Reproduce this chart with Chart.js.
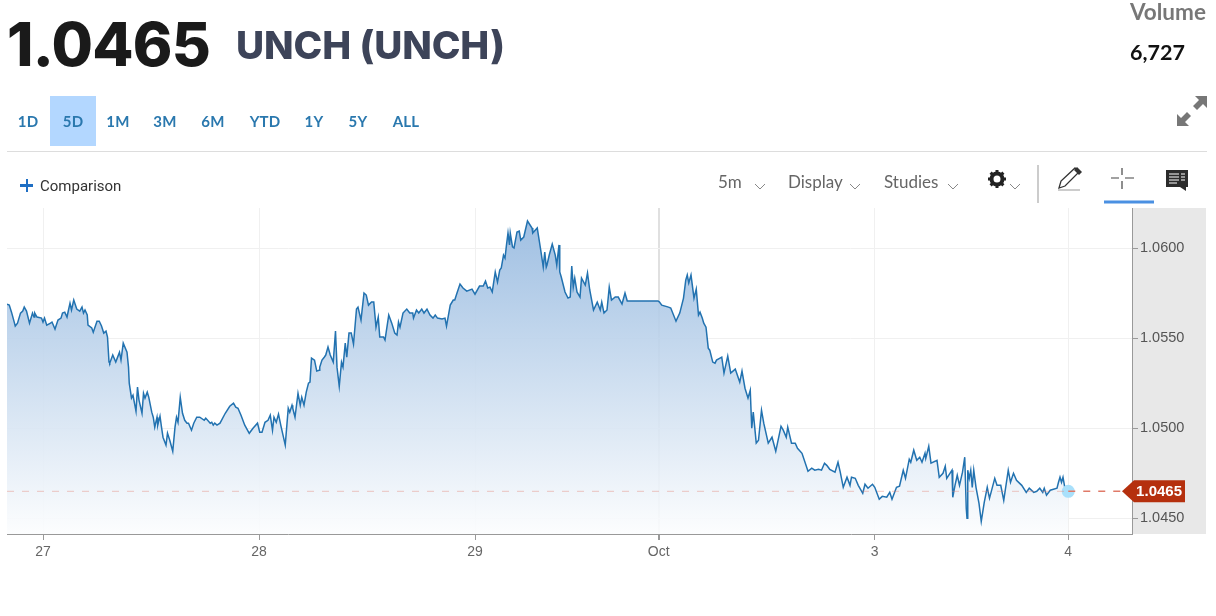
<!DOCTYPE html>
<html>
<head>
<meta charset="utf-8">
<title>UNCH</title>
<script src="https://cdn.jsdelivr.net/npm/chart.js@4"></script>
<style>
html,body{margin:0;padding:0;background:#fff;}
body{width:1216px;height:616px;position:relative;overflow:hidden;font-family:Lato,sans-serif;}
#priceChart{position:absolute;left:0;top:0;}
.t{position:absolute;white-space:nowrap;line-height:1;transform:translateY(-50%);}
.c{transform:translate(-50%,-50%);}
.range{font:700 15px Lato,sans-serif;color:#2a78ae;letter-spacing:.2px;}
.tool{font:400 17px Lato,sans-serif;color:#666;}
svg{position:absolute;overflow:visible;}
.box{position:absolute;}
</style>
</head>
<body>
<canvas id="priceChart" width="1216" height="616"></canvas>

<div class="t" style="left:7px;top:44px;font:800 60px Inter,sans-serif;color:#1a1a1a;letter-spacing:-.7px;">1.0465</div>
<div class="t" style="left:236px;top:45px;font:800 38.7px Inter,sans-serif;color:#3d4459;letter-spacing:-.1px;">UNCH (UNCH)</div>
<div class="t" style="left:1130px;top:11px;font:700 22.5px Lato,sans-serif;color:#777;">Volume</div>
<div class="t" style="left:1130px;top:52px;font:700 21.5px Lato,sans-serif;color:#111;">6,727</div>

<div class="box" style="left:50px;top:96px;width:46px;height:50px;background:#b3d7ff;"></div>
<div id="ranges"></div>
<div class="box" style="left:7px;top:151px;width:1200px;height:1px;background:#ddd;"></div>

<div class="box" style="left:20px;top:184px;width:13px;height:2.500px;background:#1f6fc4;"></div>
<div class="box" style="left:25.500px;top:179px;width:2.500px;height:13px;background:#1f6fc4;"></div>
<div class="t" style="left:40px;top:186px;font:400 15px Roboto,sans-serif;color:#333;">Comparison</div>

<div class="t tool" style="left:718px;top:181px;">5m</div>
<div class="t tool" style="left:788px;top:181px;">Display</div>
<div class="t tool" style="left:884px;top:181px;">Studies</div>

<svg style="left:0;top:0;" width="1216" height="616" fill="none">
  <path d="M755 184l5 5 5-5M850 184l5 5 5-5M948 184l5 5 5-5M1010 184l5 5 5-5" stroke="#888" stroke-width="1"/>
  <!-- gear -->
  <circle cx="997" cy="179" r="5.5" stroke="#222" stroke-width="4"/>
  <path d="M997 170v3M997 185v3M988 179h3M1003 179h3M990.6 172.6l2 2M1001.4 183.4l2 2M1003.400 172.6l-2 2M992.6 183.4l-2 2" stroke="#222" stroke-width="3"/>
  <!-- divider -->
  <path d="M1038 165v38" stroke="#ccc" stroke-width="2"/>
  <!-- pencil -->
  <path d="M1059 188l2-7 14-13 4 4-14 14z" stroke="#333" stroke-width="1.3"/>
  <path d="M1074 170l5 5 3-3-5-5z" fill="#333"/>
  <path d="M1058 190h22" stroke="#999" stroke-width="1"/>
  <!-- crosshair -->
  <path d="M1111 178h8M1125 178h9M1122 168v7M1122 181v8" stroke="#444" stroke-width="1.2"/>
  <path d="M1104 202h50" stroke="#4a90e2" stroke-width="3"/>
  <!-- comment -->
  <path d="M1166 170h22v17h-22z" fill="#2b2b2b"/>
  <path d="M1180 187h6v4z" fill="#2b2b2b"/>
  <path d="M1169 174h10M1169 177h10M1169 180h10M1169 183h8M1181 174h4M1181 177h4M1181 180h4" stroke="#fff" stroke-width="1"/>
  <!-- expand -->
  <path d="M1195 96h12v12l-4-4-6 6-4-4 6-6z" fill="#777"/>
  <path d="M1189 126h-12v-12l4 4 6-6 4 4-6 6z" fill="#777"/>
</svg>

<script>
const bars = [
0,3,6,10,11,14,18,21,23,26,
30,34,36,37,40,46,48,50,53,58,
60,64,68,72,74,77,80,82,84,86,
89,93,97,100,102,104,107,108,113,115,
120,123,126,129,132,134,136,
137,141,145,147,150,152,155,160,162,163,
166,168,172,174,176,180,182,184,187,189,
193,195,197,200,201,204,206,208,212,214,
217,221,224,226,228,231,234,237,240,242,
246,249,253,257,263,265,271,273,275,277,
280,284,291,297,302,305,308,312,317,323,
328,334,337,340,344,348,351,354,356,359,
362,365,371,375,377,380,381,384,388,391,
393,396,399,402,404,406,410,413,416,417,
420,423,425,428,431,435,438,440,443,446,
448,451,453,456,459,462,466,468,472,476,
479,482,486,489,492,495,497,502,504,509,
513,517,520,522,524,528,533,537,541,542,
546,549,553,556,560,564,568,571,574,580,
584,586,591,595,597,600,604,608,613,620,
624,630,635,638,641,644,647,651,654,657,
659,662,664,666,668,670,671,674,676,680,
683,685,689,694,700,701,707,712,715,717,
719,720,723,727,731,733,736,737,739,744,
748,751,753,755,757,760,764,766,771,774,
777,782,787,791,793,796,800,803,806,811,
815,820,824,827,868,
870,873,882,885,892,897,902,905,907,909,
912,916,919,922,924,927,929,932,935,937,
941,944,946,953,956,961,965,971,977,980,
984,988,991,993,995,999,1002,1006,1009,1015,
1020,1025,1032,1035,1039,1041,1046,1051,1054,1060,
1068,1073,1077,1082,1086,1090,1093,1097,1104,1108,1111,
1115,1120,1124,1126,1131,1135,1141,1144,1148,1154,
1157,1163,1167,1173,1177,1180,1186,1190,1195,1198,
1203,1205,1209,1213,1217,1220,1224,1225,1229,1232,
1240,1243,1248,1251,1253,1260,1261,1264,1267,1270,
1274,1277,1279,1280,1281,1283,1285,1287,1289,1292,
1296,1299,1303,1307,1310,1317,1320,1325,1329,1335,
1338,1342,1346,1353,1359,1363,1369,1373,1377,1381,
1383,1386,1391,1400,1402,1404,1406,1408,1409,1411,1415];

const prices = [
1.05689,1.05683,1.05644,1.05583,1.05567,1.05583,1.05639,1.05650,1.05672,1.05650,
1.05583,1.05639,1.05617,1.05639,1.05617,1.05611,1.05589,1.05611,1.05572,1.05583,
1.05589,1.05550,1.05600,1.05611,1.05639,1.05644,1.05617,1.05656,1.05694,1.05656,
1.05711,1.05661,1.05650,1.05672,1.05639,1.05656,1.05628,1.05572,1.05556,1.05533,
1.05594,1.05594,1.05567,1.05528,1.05539,1.05506,1.05367,
1.05361,1.05406,1.05367,1.05389,1.05422,1.05378,1.05472,1.05422,1.05339,1.05250,
1.05167,1.05183,1.05094,1.05228,1.05156,1.05083,1.05194,1.05167,1.05200,1.05172,
1.05089,1.05061,1.05006,1.05061,1.05017,1.05067,1.05006,1.04950,1.04906,1.04972,
1.04933,1.04872,1.05006,1.05061,1.05033,1.05172,1.05083,1.05044,1.05028,1.05028,
1.04989,1.05028,1.05061,1.05061,1.05044,1.05056,1.05028,1.05033,1.05017,1.05028,
1.05017,1.05028,1.05083,1.05122,1.05139,1.05117,1.05111,1.05072,1.05017,1.04972,
1.05000,1.05028,1.04978,1.04978,1.05033,1.05044,1.05072,1.04989,1.05061,1.05033,
1.05078,1.05017,1.04906,1.05111,1.05089,1.05128,1.05111,1.05061,1.05194,1.05128,
1.05172,1.05128,1.05200,1.05250,1.05256,1.05389,1.05378,1.05317,1.05322,1.05339,
1.05378,1.05394,1.05406,1.05450,1.05406,1.05367,1.05539,1.05339,1.05233,1.05367,
1.05339,1.05472,1.05394,1.05528,1.05528,1.05467,1.05661,1.05672,1.05600,1.05750,
1.05739,1.05683,1.05700,1.05700,1.05561,1.05617,1.05506,1.05506,1.05489,1.05628,
1.05583,1.05528,1.05517,1.05589,1.05561,1.05639,1.05661,1.05639,1.05639,1.05611,
1.05656,1.05639,1.05661,1.05639,1.05661,1.05628,1.05611,1.05628,1.05611,1.05606,
1.05611,1.05567,1.05683,1.05711,1.05711,1.05750,1.05800,1.05778,1.05761,1.05772,
1.05744,1.05789,1.05789,1.05817,1.05778,1.05783,1.05756,1.05867,1.05811,1.05878,
1.05889,1.05961,1.05944,1.06017,1.06083,1.06017,1.06083,1.06006,1.06000,1.06089,
1.06094,1.06044,1.06061,1.06150,1.06111,1.06083,1.06111,1.05978,1.05894,1.05978,
1.05894,1.05906,1.05961,1.06022,1.05961,1.05906,1.06017,1.05867,1.05839,1.05756,
1.05722,1.05728,1.05900,1.05783,1.05833,1.05756,1.05728,1.05833,1.05794,1.05861,
1.05767,1.05656,1.05700,1.05656,1.05700,1.05639,1.05656,1.05783,1.05711,1.05728,
1.05728,1.05689,1.05750,1.05706,1.05706,
1.05700,1.05683,1.05672,1.05667,1.05594,1.05639,1.05722,1.05822,1.05850,1.05806,
1.05850,1.05722,1.05772,1.05628,1.05644,1.05611,1.05583,1.05561,1.05444,1.05433,
1.05367,1.05361,1.05378,1.05394,1.05306,1.05400,1.05306,1.05328,1.05256,1.05317,
1.05222,1.05167,1.05211,1.05000,1.05089,1.04917,1.04933,1.05100,1.05028,1.04917,
1.04950,1.04872,1.05011,1.04989,1.04950,1.05006,1.04917,1.04917,1.04889,1.04861,
1.04761,1.04778,1.04767,1.04772,1.04767,1.04806,1.04794,1.04772,1.04756,1.04811,1.04756,
1.04672,1.04728,1.04683,1.04728,1.04722,1.04683,1.04639,1.04689,1.04667,1.04689,
1.04672,1.04606,1.04622,1.04617,1.04644,1.04606,1.04672,1.04678,1.04767,1.04722,
1.04828,1.04811,1.04878,1.04822,1.04839,1.04811,1.04861,1.04833,1.04900,1.04806,
1.04822,1.04728,1.04750,1.04789,1.04722,1.04767,1.04617,1.04683,1.04739,1.04683,
1.04756,1.04839,1.04556,1.04500,1.04767,1.04722,1.04767,1.04672,1.04767,1.04672,
1.04583,1.04483,1.04589,1.04672,1.04611,1.04722,1.04683,1.04683,1.04600,1.04767,
1.04700,1.04750,1.04711,1.04683,1.04644,1.04667,1.04644,1.04650,1.04667,1.04644,
1.04667,1.04628,1.04656,1.04667,1.04700,1.04728,1.04700,1.04728,1.04728,1.04656,1.04650];

const xTickBars = [48,336,624,869,1157,1415];
const xTickLabels = ["27","28","29","Oct","3","4"];
const yTicks = [1.045,1.05,1.055,1.06];
const lastPrice = 1.0465;
const rangeLabels = ["1D","5D","1M","3M","6M","YTD","1Y","5Y","ALL"];
const rangeCenters = [28,73,118,165,213,265,314,358,406];

const rangeBox = document.getElementById("ranges");
rangeLabels.forEach((label,i)=>{
    const el = document.createElement("div");
    el.className = "t c range";
    el.style.left = rangeCenters[i]+"px";
    el.style.top = "121px";
    el.innerText = label;
    rangeBox.appendChild(el);
});

const lastBar = bars[bars.length-1];
const xMax = 1500;

// grey price panel and the red last-price tag
const panelPlugin = {
    id:"panel",
    beforeDraw(chart){
        const {ctx,chartArea} = chart;
        ctx.save();
        ctx.fillStyle = "#e8e8e8";
        ctx.fillRect(chartArea.right,chartArea.top,74,chartArea.bottom-chartArea.top);
        ctx.restore();
    },
    afterDraw(chart){
        const {ctx,chartArea,scales} = chart;
        const y = scales.y.getPixelForValue(lastPrice);
        const x = chartArea.right-10;
        ctx.save();
        ctx.fillStyle = "#b5300e";
        ctx.beginPath();
        ctx.moveTo(x,y);
        ctx.lineTo(x+12,y-11);
        ctx.lineTo(x+63,y-11);
        ctx.lineTo(x+63,y+11);
        ctx.lineTo(x+12,y+11);
        ctx.closePath();
        ctx.fill();
        ctx.fillStyle = "#fff";
        ctx.font = "700 15px 'Liberation Sans'";
        ctx.textAlign = "right";
        ctx.textBaseline = "middle";
        ctx.fillText(lastPrice.toFixed(4),x+60,y+1);
        ctx.restore();
    }
};

const chart = new Chart(document.getElementById("priceChart"),{
    type:"line",
    data:{
        datasets:[
            {
                data:bars.map((b,i)=>({x:b,y:prices[i]})),
                borderColor:"#2272b0",
                borderWidth:1.5,
                tension:0,
                fill:"origin",
                order:2,
                backgroundColor(c){
                    const a = c.chart.chartArea;
                    if(!a) return "transparent";
                    const g = c.chart.ctx.createLinearGradient(0,a.top,0,a.bottom);
                    g.addColorStop(0,"rgba(145,182,222,0.9)");
                    g.addColorStop(1,"rgba(252,253,254,0.9)");
                    return g;
                },
                pointRadius:c=>c.dataIndex===bars.length-1?6.5:0,
                pointBackgroundColor:"#a9e0fb",
                pointBorderWidth:0
            },
            {
                data:[{x:0,y:lastPrice},{x:lastBar,y:lastPrice}],
                borderColor:"rgba(225,130,115,0.35)",
                borderWidth:1.2,
                borderDash:[7,8],
                pointRadius:0,
                fill:false,
                order:1
            },
            {
                data:[{x:lastBar,y:lastPrice},{x:xMax,y:lastPrice}],
                borderColor:"#e07a68",
                borderWidth:1.4,
                borderDash:[7,8],
                pointRadius:0,
                fill:false,
                order:1
            }
        ]
    },
    options:{
        responsive:false,
        animation:false,
        events:[],
        layout:{padding:{left:7,top:208,right:10,bottom:42}},
        plugins:{legend:{display:false},tooltip:{enabled:false}},
        scales:{
            x:{
                type:"linear",
                min:0,
                max:xMax,
                afterBuildTicks(s){ s.ticks = xTickBars.map(v=>({value:v})); },
                afterFit(s){ s.height = 40; },
                grid:{
                    color:c=>c.tick&&c.tick.value===869?"#e0e0e0":"#f0f0f0",
                    lineWidth:c=>c.tick&&c.tick.value===869?2:1,
                    tickColor:"#999",
                    tickLength:6
                },
                border:{color:"#999",width:1},
                ticks:{
                    autoSkip:false,
                    maxRotation:0,
                    padding:4,
                    color:"#666",
                    font:{family:"'Liberation Sans'",size:14},
                    callback:v=>xTickLabels[xTickBars.indexOf(v)]
                }
            },
            y:{
                type:"linear",
                position:"right",
                min:1.04413,
                max:1.06222,
                afterBuildTicks(s){ s.ticks = yTicks.map(v=>({value:v})); },
                afterFit(s){ s.width = 74; },
                grid:{color:"#f0f0f0",tickColor:"#999",tickLength:6},
                border:{color:"#999",width:1},
                ticks:{
                    padding:2,
                    color:"#555",
                    font:{family:"'Liberation Sans'",size:14.5},
                    callback:v=>v.toFixed(4)
                }
            }
        }
    },
    plugins:[panelPlugin]
});
</script>
</body>
</html>
